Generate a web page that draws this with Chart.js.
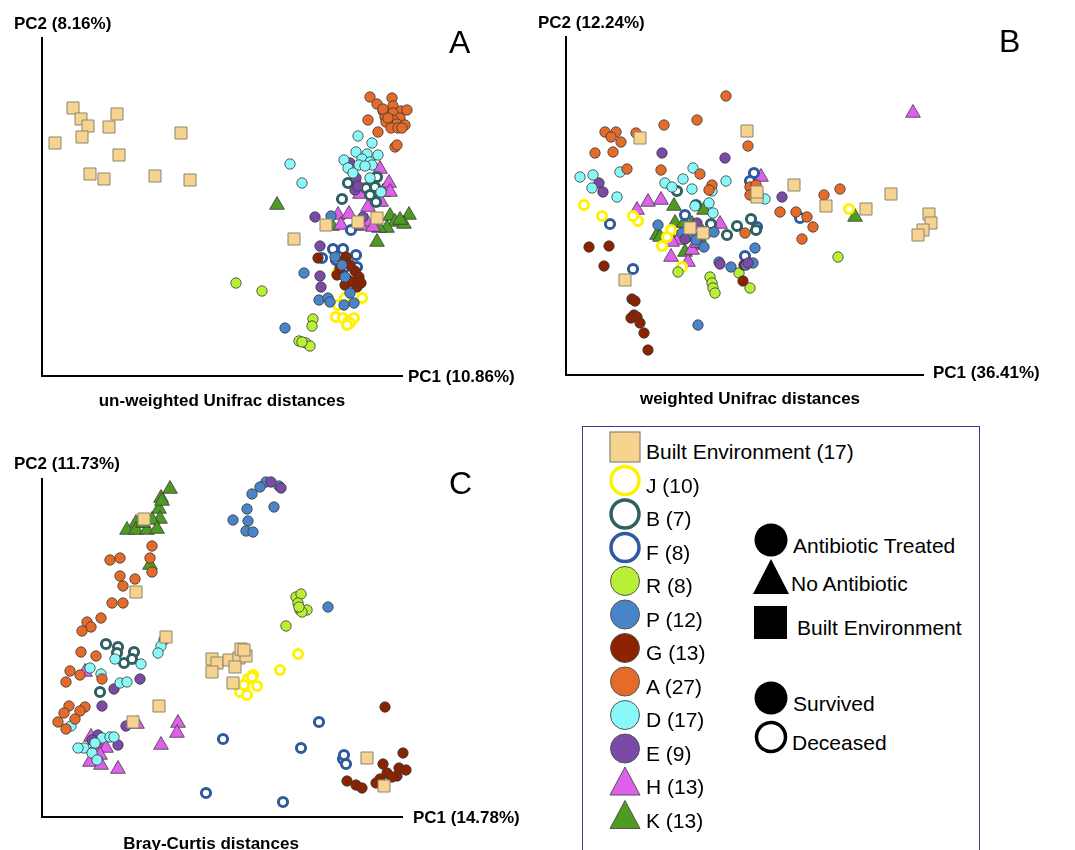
<!DOCTYPE html>
<html>
<head>
<meta charset="utf-8">
<script src="https://cdn.jsdelivr.net/npm/chart.js@4.4.0/dist/chart.umd.min.js"></script>
<style>
  body { margin: 0; background: #fff; font-family: "Liberation Sans", Arial, sans-serif; color: #000; }
  #wrap { position: relative; width: 1075px; height: 850px; overflow: hidden; }
  .pane { position: absolute; }
  .lbl { position: absolute; font-weight: bold; font-size: 17px; white-space: nowrap; line-height: 1; transform: translateY(-50%); }
  .ttl { position: absolute; font-weight: bold; font-size: 17px; white-space: nowrap; line-height: 1; transform: translate(-50%, -50%); }
  .big { position: absolute; font-size: 32px; line-height: 1; transform: translateY(-50%); }
  #legend { position: absolute; left: 582px; top: 426px; width: 398px; height: 440px; border: 1.5px solid #34418a; box-sizing: border-box; }
  #legSvg { position: absolute; left: 582px; top: 426px; }
  .lg { position: absolute; font-size: 21px; white-space: nowrap; line-height: 1; transform: translateY(-50%); }
</style>
</head>
<body>
<div id="wrap">
  <canvas id="chartA" class="pane" width="540" height="410" style="left:0;top:0"></canvas>
  <canvas id="chartB" class="pane" width="545" height="410" style="left:530px;top:0"></canvas>
  <canvas id="chartC" class="pane" width="540" height="430" style="left:0;top:420px"></canvas>

  <div class="lbl" style="left:14px;top:23px">PC2 (8.16%)</div>
  <div class="lbl" style="left:408px;top:376px">PC1 (10.86%)</div>
  <div class="big" style="left:449px;top:42px">A</div>
  <div class="ttl" style="left:222px;top:400px">un-weighted Unifrac distances</div>

  <div class="lbl" style="left:538px;top:22px">PC2 (12.24%)</div>
  <div class="lbl" style="left:933px;top:372px">PC1 (36.41%)</div>
  <div class="big" style="left:999px;top:41px">B</div>
  <div class="ttl" style="left:750px;top:398px">weighted Unifrac distances</div>

  <div class="lbl" style="left:14px;top:463px">PC2 (11.73%)</div>
  <div class="lbl" style="left:413px;top:817px">PC1 (14.78%)</div>
  <div class="big" style="left:449px;top:483px">C</div>
  <div class="ttl" style="left:211px;top:843px">Bray-Curtis distances</div>

  <div id="legend"></div>
  <svg id="legSvg" width="398" height="424"></svg>
  <div id="legText"></div>
</div>

<script>
// groups, in legend order
const groupNames = ["Built Environment", "J", "B", "F", "R", "P", "G", "A", "D", "E", "H", "K"];
const groupCounts = [17, 10, 7, 8, 8, 12, 13, 27, 17, 9, 13, 13];
const groupColors = ["#F6D48F", "#FFF200", "#2F6163", "#2E5A9E", "#B8F035", "#4A84C8",
                     "#8B2200", "#E56B2A", "#88F8F8", "#7A4AA6", "#E060EE", "#4E9A22"];
const groupShapes = ["square", "ring", "ring", "ring", "dot", "dot", "dot", "dot", "dot", "dot", "tri", "tri"];

// A: un-weighted Unifrac  [PC1, PC2] (units)
const uwBE = [[31,268],[39,257],[46,250],[40,239],[13,233],[75,262],[67,249],[77,221],[139,243],[48,202],[62,197],[113,200],[148,196],[252,137],[284,151],[335,158],[316,154]];
const uwJ = [[295,103],[303,78],[320,78],[296,71],[294,59],[301,58],[306,54],[312,58],[308,53],[305,51]];
const uwB = [[306,193],[300,177],[324,188],[333,189],[335,199],[334,174],[328,181]];
const uwF = [[309,146],[291,127],[280,118],[314,121],[303,109],[294,116],[315,109],[301,127]];
const uwR = [[194,93],[220,85],[271,57],[270,50],[257,35],[264,33],[268,30],[260,34]];
const uwP = [[289,160],[262,103],[243,48],[277,76],[286,78],[288,74],[293,119],[300,111],[303,99],[302,71],[312,73],[308,83]];
const uwG = [[276,118],[304,119],[301,114],[295,101],[313,105],[317,99],[306,96],[303,91],[315,89],[311,94],[298,108],[308,111],[319,93]];
const uwA = [[328,279],[350,278],[335,272],[341,265],[351,270],[359,265],[366,268],[369,273],[367,271],[326,256],[343,259],[351,263],[358,258],[344,254],[351,256],[355,252],[363,251],[370,249],[349,248],[356,248],[336,244],[353,229],[355,231],[341,267],[346,258],[360,248],[365,266]];
const uwD = [[248,212],[260,193],[316,240],[330,233],[314,224],[325,222],[320,217],[336,221],[302,216],[306,208],[328,214],[317,211],[328,198],[330,211],[323,210],[311,203],[339,184]];
const uwE = [[308,213],[314,198],[313,186],[273,159],[321,159],[278,130],[278,100],[279,89],[316,190]];
const uwH = [[338,207],[347,193],[348,184],[318,182],[326,169],[296,161],[299,151],[325,154],[319,150],[339,174],[331,149],[307,162],[314,151]];
const uwK = [[235,171],[341,184],[379,176],[378,164],[367,161],[348,160],[353,154],[362,152],[358,156],[345,148],[337,148],[335,134],[290,150]];

// B: weighted Unifrac
const wBE = [[74,237],[181,244],[228,190],[191,178],[260,169],[300,166],[325,181],[363,161],[365,152],[378,154],[392,148],[357,145],[352,140],[59,95],[137,142],[124,147],[191,183]];
const wJ = [[18,170],[36,159],[72,154],[67,159],[96,129],[116,108],[283,166],[105,145],[122,142],[101,138]];
const wB = [[111,184],[145,151],[171,149],[185,156],[190,145],[161,140],[130,170]];
const wF = [[188,202],[184,194],[44,151],[67,106],[179,119],[234,157],[191,148],[119,160]];
const wR = [[112,103],[144,98],[146,92],[147,87],[149,82],[173,102],[184,87],[272,118]];
const wP = [[92,150],[148,143],[189,127],[153,113],[165,108],[187,112],[132,50],[116,142],[138,128],[180,110],[122,138],[130,135]];
const wG = [[23,128],[43,129],[38,109],[66,76],[69,74],[68,60],[65,57],[71,58],[74,52],[78,42],[82,25],[177,94],[178,110]];
const wA = [[160,279],[131,255],[98,250],[39,243],[50,243],[45,238],[55,233],[70,242],[29,222],[47,223],[182,229],[61,206],[95,205],[134,201],[146,190],[184,188],[184,180],[258,180],[274,186],[214,163],[230,163],[241,158],[247,148],[236,136],[179,142],[190,190],[143,185]];
const wD = [[14,198],[27,200],[26,187],[51,178],[54,203],[99,192],[106,188],[117,196],[127,207],[126,186],[146,184],[160,194],[129,169],[143,172],[147,162],[199,176],[192,178]];
const wE = [[96,222],[159,217],[33,192],[37,183],[216,178],[131,152],[119,136],[154,111],[182,112]];
const wH = [[347,262],[195,198],[154,151],[71,165],[82,173],[95,175],[105,118],[122,113],[126,125],[124,140],[112,135],[106,133],[132,132]];
const wK = [[108,169],[138,165],[289,158],[109,152],[118,152],[126,151],[91,140],[94,138],[105,138],[133,138],[130,130],[119,123],[137,142]];

// C: Bray-Curtis
const bcBE = [[102,298],[94,225],[124,180],[170,158],[175,154],[170,145],[187,157],[197,159],[199,168],[204,161],[193,150],[191,134],[117,111],[91,95],[325,59],[342,31],[202,167]];
const bcJ = [[256,163],[238,147],[211,142],[206,138],[215,131],[202,130],[198,125],[205,122],[210,140],[202,132]];
const bcB = [[64,173],[76,170],[92,165],[75,164],[82,154],[90,158],[58,125]];
const bcF = [[277,95],[181,78],[259,69],[301,58],[304,53],[164,24],[241,15],[302,62]];
const bcR = [[254,220],[259,223],[256,214],[258,207],[265,207],[260,205],[244,191],[257,210]];
const bcP = [[224,335],[218,330],[210,323],[237,331],[205,308],[191,297],[206,296],[204,286],[211,285],[232,310],[286,210],[122,177]];
const bcG = [[343,110],[361,64],[341,53],[345,44],[357,49],[364,47],[355,41],[350,40],[338,38],[334,34],[305,36],[314,32],[320,29]];
const bcA = [[110,271],[68,257],[78,259],[108,259],[110,245],[78,241],[93,238],[81,231],[70,214],[81,214],[59,199],[45,195],[49,190],[40,186],[39,165],[54,161],[28,146],[38,142],[24,135],[60,138],[27,111],[43,110],[22,104],[38,106],[33,98],[16,95],[24,88]];
const bcD = [[119,171],[116,164],[73,158],[99,153],[48,149],[59,143],[78,134],[29,91],[42,69],[50,64],[60,79],[68,80],[53,74],[36,69],[72,80],[85,135],[55,57]];
const bcE = [[229,335],[239,329],[98,138],[72,128],[60,111],[84,91],[76,72],[56,82],[50,77]];
const bcH = [[43,145],[95,93],[136,94],[135,84],[119,72],[49,80],[55,72],[64,69],[58,62],[48,55],[59,52],[76,48],[53,77]];
const bcK = [[128,328],[119,319],[117,308],[118,298],[110,297],[94,294],[85,287],[94,287],[105,287],[115,288],[108,252],[101,294],[120,316]];

const drawOrder = [0, 7, 8, 9, 5, 6, 4, 1, 2, 3, 10, 11];

function markerStyle(i) {
  const shape = groupShapes[i];
  const col = groupColors[i];
  if (shape === "square") return { pointStyle: "rect", pointRadius: 8.5, pointBackgroundColor: col, pointBorderColor: "#8a8470", pointBorderWidth: 1 };
  if (shape === "ring") return { pointStyle: "circle", pointRadius: 4.6, pointBackgroundColor: "#fff", pointBorderColor: col, pointBorderWidth: 3 };
  if (shape === "tri") return { pointStyle: "triangle", pointRadius: 8.5, pointBackgroundColor: col, pointBorderColor: "#3a3a3a", pointBorderWidth: 0.8 };
  return { pointStyle: "circle", pointRadius: 5.2, pointBackgroundColor: col, pointBorderColor: "#3a3a3a", pointBorderWidth: 0.8 };
}

function makePanel(id, groups, xMax, pad) {
  const datasets = drawOrder.map(i => Object.assign({
    label: groupNames[i],
    data: groups[i].map(p => ({ x: p[0], y: p[1] })),
    clip: false
  }, markerStyle(i)));

  const axis = (max) => ({
    min: 0, max: max,
    ticks: { display: false },
    grid: { display: false, drawTicks: false },
    border: { color: "#000", width: 2 }
  });

  new Chart(document.getElementById(id), {
    type: "scatter",
    data: { datasets: datasets },
    options: {
      responsive: false,
      animation: false,
      layout: { padding: pad },
      plugins: { legend: { display: false }, tooltip: { enabled: false } },
      scales: { x: axis(xMax), y: axis(338) }
    }
  });
}

makePanel("chartA", [uwBE, uwJ, uwB, uwF, uwR, uwP, uwG, uwA, uwD, uwE, uwH, uwK], 360,
  { left: 42, top: 38, right: 138, bottom: 34 });
makePanel("chartB", [wBE, wJ, wB, wF, wR, wP, wG, wA, wD, wE, wH, wK], 357,
  { left: 36, top: 37, right: 152, bottom: 35 });
makePanel("chartC", [bcBE, bcJ, bcB, bcF, bcR, bcP, bcG, bcA, bcD, bcE, bcH, bcK], 360,
  { left: 42, top: 59, right: 138, bottom: 33 });

// legend
const svg = document.getElementById("legSvg");
const txt = document.getElementById("legText");
const NS = "http://www.w3.org/2000/svg";
function shape(tag, attrs) {
  const el = document.createElementNS(NS, tag);
  for (const k in attrs) el.setAttribute(k, attrs[k]);
  svg.appendChild(el);
}
function label(text, left, top) {
  const d = document.createElement("div");
  d.className = "lg";
  d.style.left = left + "px";
  d.style.top = top + "px";
  d.textContent = text;
  txt.appendChild(d);
}

groupNames.forEach((name, i) => {
  const cx = 43, cy = 21 + i * 33.5;
  const col = groupColors[i];
  const s = groupShapes[i];
  if (s === "square") shape("rect", { x: cx - 15, y: cy - 15, width: 30, height: 30, fill: col, stroke: "#8a8470", "stroke-width": 1.2 });
  else if (s === "ring") shape("circle", { cx: cx, cy: cy, r: 14, fill: "#fff", stroke: col, "stroke-width": 3.5 });
  else if (s === "tri") shape("polygon", { points: `${cx},${cy - 15} ${cx - 15},${cy + 13} ${cx + 15},${cy + 13}`, fill: col, stroke: "#555", "stroke-width": 1 });
  else shape("circle", { cx: cx, cy: cy, r: 14.5, fill: col, stroke: "#555", "stroke-width": 1 });
  label(`${name} (${groupCounts[i]})`, 646, 426 + cy + 4);
});

shape("circle", { cx: 189, cy: 114, r: 16.5, fill: "#000" });
shape("polygon", { points: "189,133 171,168 207,168", fill: "#000" });
shape("rect", { x: 172, y: 180, width: 33, height: 33, fill: "#000" });
shape("circle", { cx: 189, cy: 272, r: 16.5, fill: "#000" });
shape("circle", { cx: 189, cy: 311, r: 14.5, fill: "#fff", stroke: "#000", "stroke-width": 3.5 });
label("Antibiotic Treated", 793, 545);
label("No Antibiotic", 791, 583);
label("Built Environment", 797, 627);
label("Survived", 793, 703);
label("Deceased", 792, 742);
</script>
</body>
</html>
